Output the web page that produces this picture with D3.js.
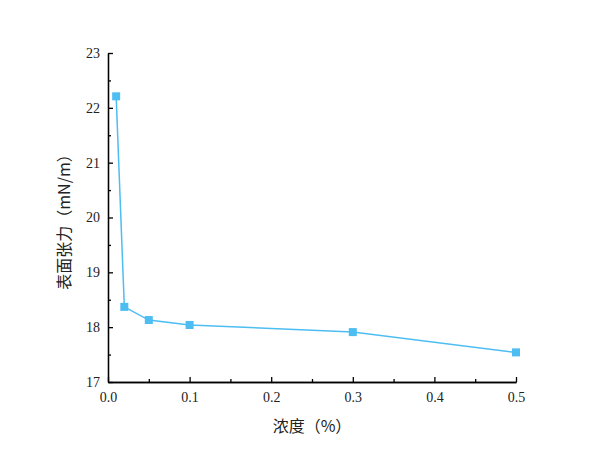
<!DOCTYPE html><html><head><meta charset="utf-8"><script src="https://cdn.jsdelivr.net/npm/d3@7"></script>
<style>body{margin:0;background:#fff}.tick text{font-family:"Liberation Serif","DejaVu Serif",serif !important;font-size:14px !important}</style></head><body><svg id="c" width="600" height="459"></svg>
<script>
const xVals=[0.01,0.02,0.05,0.1,0.3,0.5];
const yVals=[22.21,18.37,18.13,18.04,17.91,17.54];
const xTicks=[0,0.1,0.2,0.3,0.4,0.5];
const yTicks=[17,18,19,20,21,22,23];
const svg=d3.select("#c");
const x=d3.scaleLinear().domain([0,0.5]).range([108,516]);
const y=d3.scaleLinear().domain([17,23]).range([382,53]);
const col="#4dbdf2";
svg.append("g").attr("transform","translate(0,382)").call(d3.axisBottom(x).tickValues(xTicks).tickFormat(d3.format(".1f")).tickSizeInner(-5).tickSizeOuter(0).tickPadding(10));
svg.append("g").attr("transform","translate(0,382)").call(d3.axisBottom(x).tickValues(d3.range(0.05,0.5,0.1)).tickFormat("").tickSizeInner(-3).tickSizeOuter(0));
svg.append("g").attr("transform","translate(108,0)").call(d3.axisLeft(y).tickValues(yTicks).tickFormat(d3.format("d")).tickSizeInner(-5).tickSizeOuter(0).tickPadding(8));
svg.append("g").attr("transform","translate(108,0)").call(d3.axisLeft(y).tickValues(d3.range(17.5,23,1)).tickFormat("").tickSizeInner(-3).tickSizeOuter(0));
svg.selectAll(".domain,.tick line").attr("stroke","#000").attr("stroke-width",1.3);
svg.selectAll(".tick text").attr("fill","#222");
const pts=xVals.map((v,i)=>[v,yVals[i]]);
svg.append("path").attr("d",d3.line().x(d=>x(d[0])).y(d=>y(d[1]))(pts)).attr("fill","none").attr("stroke",col).attr("stroke-width",1.5);
svg.selectAll("rect.m").data(pts).enter().append("rect").attr("x",d=>x(d[0])-4).attr("y",d=>y(d[1])-4).attr("width",8).attr("height",8).attr("fill",col);
svg.append("text").attr("x",312).attr("y",432).attr("text-anchor","middle").attr("font-family","Noto Sans CJK SC").attr("font-size",16).attr("fill","#222").text("浓度（%）");
svg.append("text").attr("transform","translate(70,218) rotate(-90)").attr("text-anchor","middle").attr("font-family","Noto Sans CJK SC").attr("font-size",16).attr("fill","#222").text("表面张力（mN/m）");
</script></body></html>
